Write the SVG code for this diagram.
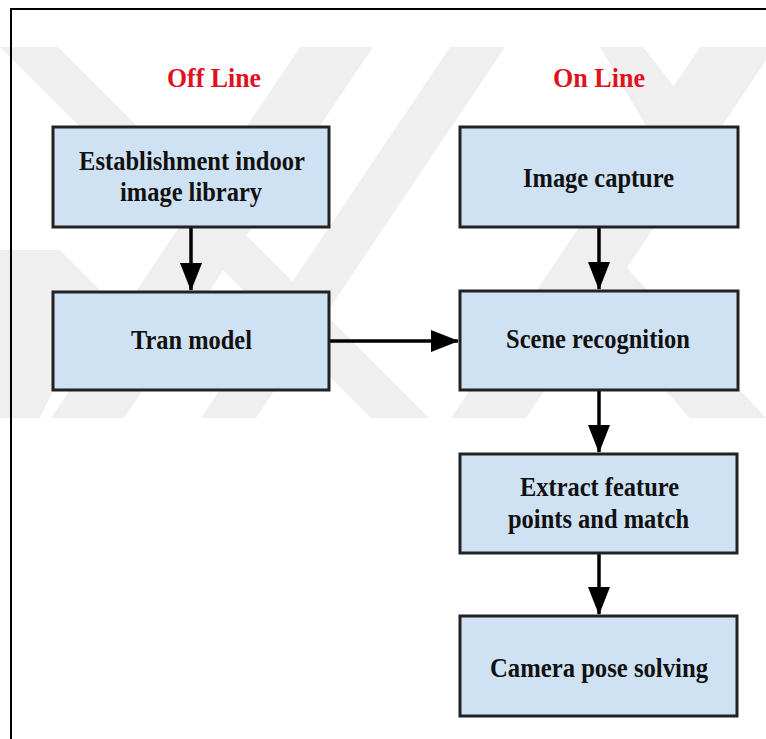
<svg xmlns="http://www.w3.org/2000/svg" width="766" height="739" viewBox="0 0 766 739">
<style>
.wm{fill:#efefef}
.box{fill:#cfe2f3;stroke:#222;stroke-width:3}
.t{font-family:"Liberation Serif","Times New Roman",serif;font-weight:bold;font-size:27px;fill:#111;text-anchor:start}
.h{font-family:"Liberation Serif","Times New Roman",serif;font-weight:bold;font-size:28px;fill:#e0121f}
.c{stroke:#000;stroke-width:3.5;fill:none}
</style>
<defs>
<clipPath id="wmclip"><rect x="0" y="47" width="766" height="371"/></clipPath>
<marker id="ah" viewBox="0 0 28 22" refX="27" refY="11" markerWidth="28" markerHeight="22" markerUnits="userSpaceOnUse" orient="auto">
<path d="M0,0 L28,11 L0,22 Z" fill="#000"/>
</marker>
</defs>
<rect width="766" height="739" fill="#fff"/>
<g id="watermark" clip-path="url(#wmclip)">
<polygon class="wm" points="0,47 58,47 429,418 371,418"/>
<polygon class="wm" points="300,47 373,47 124,418 51,418"/>
<polygon class="wm" points="450,47 505,47 256,418 201,418"/>
<polygon class="wm" points="700,47 775,47 526,418 451,418"/>
<polygon class="wm" points="553,267 626,267 766,418 690,418"/>
<polygon class="wm" points="600,47 643,47 700,120 660,150"/>
<polygon class="wm" points="0,250 60,250 100,290 40,418 0,418"/>
</g>
<path d="M11,739 V9 H766" fill="none" stroke="#000" stroke-width="2"/>
<text class="h" x="167" y="87" textLength="94" lengthAdjust="spacingAndGlyphs">Off Line</text>
<text class="h" x="553" y="87" textLength="92" lengthAdjust="spacingAndGlyphs">On Line</text>
<g id="connectors">
<line class="c" x1="191" y1="227" x2="191" y2="290" marker-end="url(#ah)"/>
<line class="c" x1="599" y1="227" x2="599" y2="289" marker-end="url(#ah)"/>
<line class="c" x1="329" y1="341" x2="458" y2="341" marker-end="url(#ah)"/>
<line class="c" x1="599" y1="390" x2="599" y2="452" marker-end="url(#ah)"/>
<line class="c" x1="599" y1="553" x2="599" y2="614" marker-end="url(#ah)"/>
</g>
<g id="n1"><rect class="box" x="53" y="127" width="276" height="100"/>
<text class="t" x="79" y="170" textLength="226" lengthAdjust="spacingAndGlyphs">Establishment indoor</text>
<text class="t" x="120" y="201" textLength="142" lengthAdjust="spacingAndGlyphs">image library</text></g>
<g id="n2"><rect class="box" x="53" y="292" width="276" height="98"/>
<text class="t" x="131" y="349" textLength="121" lengthAdjust="spacingAndGlyphs">Tran model</text></g>
<g id="n3"><rect class="box" x="460" y="127" width="278" height="100"/>
<text class="t" x="523" y="187" textLength="151" lengthAdjust="spacingAndGlyphs">Image capture</text></g>
<g id="n4"><rect class="box" x="460" y="291" width="278" height="99"/>
<text class="t" x="506" y="348" textLength="184" lengthAdjust="spacingAndGlyphs">Scene recognition</text></g>
<g id="n5"><rect class="box" x="460" y="454" width="277" height="99"/>
<text class="t" x="520" y="496" textLength="159" lengthAdjust="spacingAndGlyphs">Extract feature</text>
<text class="t" x="508" y="528" textLength="181" lengthAdjust="spacingAndGlyphs">points and match</text></g>
<g id="n6"><rect class="box" x="460" y="616" width="277" height="100"/>
<text class="t" x="490" y="677" textLength="218" lengthAdjust="spacingAndGlyphs">Camera pose solving</text></g>
</svg>
